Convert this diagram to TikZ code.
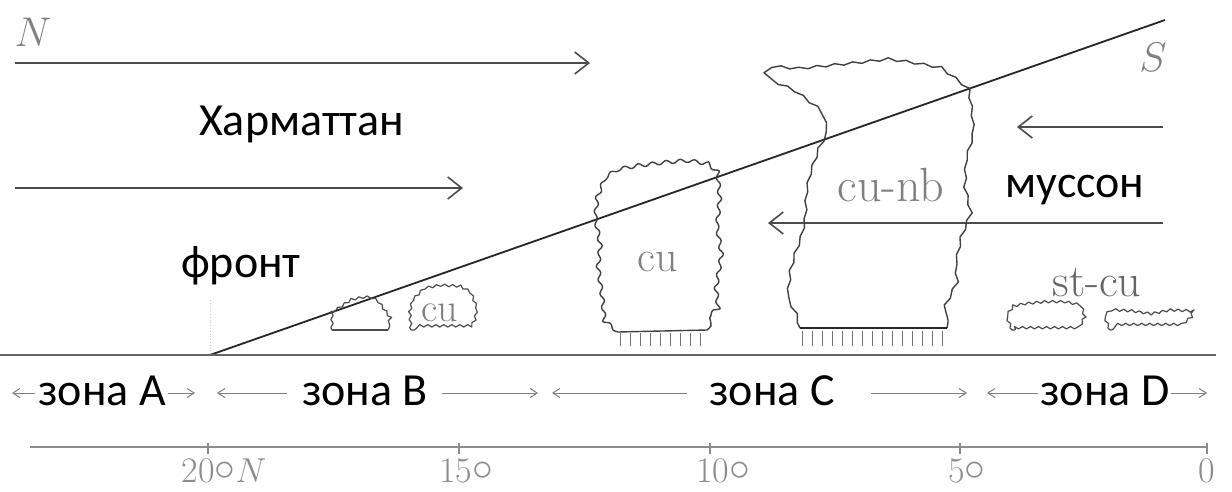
\documentclass[tikz,border=0pt]{standalone}
\usepackage{fontspec}
\newfontfamily\labelfont{Carlito}
\usetikzlibrary{arrows.meta,decorations.pathmorphing}

\newcommand{\latdeg}{\raisebox{1.2pt}{\fontsize{20}{20}\selectfont$\circ$}}

\begin{document}
\begin{tikzpicture}[x=0.5pt, y=-0.5pt]
    % Define styles
    \tikzstyle{rutext} = [font=\labelfont\fontsize{23}{27}\selectfont, text=black, inner sep=0pt]
    \tikzstyle{cloudtext} = [font=\fontsize{22}{26}\selectfont, text=black!50, inner sep=0pt]
    \tikzstyle{degree} = [font=\fontsize{18}{21}\selectfont, text=black!45, inner sep=0pt]
    \tikzstyle{windarrow} = [line width=0.8pt, black!70, -{Straight Barb[length=7pt,width=11pt]}]
    \tikzstyle{zonearrow} = [line width=0.5pt, black!50, -{Straight Barb[length=3.5pt,width=4.5pt]}]
    \tikzstyle{frontline} = [line width=0.9pt, black!85]
    \tikzstyle{cloud} = [line width=0.7pt, black!75, line join=round, decorate, decoration={snake, amplitude=0.9pt, segment length=7pt}]
    \tikzstyle{smallcloud} = [line width=0.6pt, black!70, line join=round, decorate, decoration={snake, amplitude=0.6pt, segment length=4pt}]
    \tikzstyle{rain} = [line width=0.5pt, black!55]
    \tikzstyle{axisline} = [line width=0.6pt, black!45]

    \fill[white] (0,0) rectangle (1232,492);
    \useasboundingbox (0,0) rectangle (1232,492);

    % Wind
    \node[cloudtext, font=\fontsize{20}{24}\selectfont] (north) at (33,32) {$N$};
    \node[cloudtext, font=\fontsize{20}{24}\selectfont] (south) at (1153,57) {$S$};
    \draw[windarrow] (15,63) -- (590,63);
    \draw[windarrow] (15,188) -- (463,188);
    \draw[windarrow] (1163,127) -- (1017,127);
    \draw[windarrow] (1163,223) -- (768,223);
    \node[rutext, anchor=base] (harmattan) at (302,136) {Харматтан};
    \node[rutext, anchor=base] (monsoon) at (1075,198) {муссон};
    \node[rutext, anchor=base] (front) at (241,277) {фронт};

    % Front
    \coordinate (frontbase) at (210,355);
    \coordinate (fronttop) at (1165,20);
    \draw[black!20, densely dotted] (210,300) -- (frontbase);
    \draw[frontline] (frontbase) -- (fronttop);

    % Clouds
    \draw[cloud] (618,332) -- (606,322) -- (604,300) -- (600,270) -- (603,245) -- (598,218) -- (600,195) -- (606,180) -- (618,172) -- (640,168) -- (665,165) -- (690,163) -- (710,166) -- (722,176) -- (724,200) -- (721,230) -- (726,260) -- (721,290) -- (724,315) -- (707,330);
    \draw[line width=0.7pt, black!75] (618,332) -- (707,330);
    \foreach \x in {620,630,...,706} \draw[rain] (\x,333) -- (\x,346);
    \node[cloudtext] (cu) at (658,262) {cu};

    \draw[cloud, decoration={snake, amplitude=0.6pt, segment length=9pt}] (800,328) -- (797,317) -- (788,300) -- (790,280) -- (795,262) -- (803,240) -- (807,222) -- (808,200) -- (812,180) -- (820,157) -- (830,138) -- (827,125) -- (815,112) -- (795,97) -- (775,88) -- (768,78) -- (775,70) -- (800,72) -- (830,69) -- (860,66) -- (893,62) -- (920,66) -- (942,70) -- (958,82) -- (968,90) -- (972,120) -- (973,140) -- (966,165) -- (965,190) -- (972,220) -- (962,245) -- (958,265) -- (960,290) -- (950,310) -- (947,328);
    \draw[line width=1pt, black!85] (800,328) -- (947,328);
    \foreach \x in {802,812,...,946} \draw[rain] (\x,331) -- (\x,346);
    \node[cloudtext, font=\fontsize{24}{28}\selectfont] (cunb) at (891,185) {cu-nb};

    \draw[smallcloud] (332,330) -- (332,313) -- (340,308) -- (352,300) -- (362,298) -- (372,298) -- (380,303) -- (385,310) -- (391,318) -- (388,330);
    \draw[line width=0.6pt, black!70] (332,330) -- (388,330);
    \draw[smallcloud] (411,330) -- (410,315) -- (413,302) -- (423,292) -- (440,289) -- (460,290) -- (472,297) -- (477,310) -- (475,322) -- (470,330) -- cycle;
    \node[cloudtext, font=\fontsize{20}{24}\selectfont] (cusmall) at (440,313) {cu};

    \draw[smallcloud] (1012,330) -- (1008,320) -- (1015,310) -- (1030,307) -- (1050,305) -- (1070,305) -- (1085,308) -- (1088,318) -- (1082,330) -- cycle;
    \draw[smallcloud] (1110,330) -- (1105,318) -- (1112,312) -- (1130,313) -- (1150,316) -- (1170,312) -- (1192,313) -- (1190,322) -- (1180,330) -- cycle;
    \node[cloudtext, font=\fontsize{23}{27}\selectfont, text=black!60] (stcu) at (1097,283) {st-cu};

    % Ground and zones
    \draw[line width=0.6pt, black!60] (0,355) -- (1216,355);
    \node[rutext, anchor=base] (zoneA) at (102,405) {зона A};
    \node[rutext, anchor=base] (zoneB) at (365,405) {зона B};
    \node[rutext, anchor=base] (zoneC) at (772,405) {зона C};
    \node[rutext, anchor=base] (zoneD) at (1105,405) {зона D};
    \coordinate (zAl) at (12,393);  \coordinate (zAr) at (195,393);
    \coordinate (zBl) at (217,393); \coordinate (zBr) at (538,393);
    \coordinate (zCl) at (552,393); \coordinate (zCr) at (967,393);
    \coordinate (zDl) at (987,393); \coordinate (zDr) at (1207,393);
    \draw[zonearrow, shorten <=1.5pt] (zoneA.west |- zAl) -- (zAl);
    \draw[zonearrow, shorten <=1pt] (zoneA.east |- zAr) -- (zAr);
    \draw[zonearrow, shorten <=7.5pt] (zoneB.west |- zBl) -- (zBl);
    \draw[zonearrow, shorten <=7pt] (zoneB.east |- zBr) -- (zBr);
    \draw[zonearrow, shorten <=11pt] (zoneC.west |- zCl) -- (zCl);
    \draw[zonearrow, shorten <=18pt] (zoneC.east |- zCr) -- (zCr);
    \draw[zonearrow, shorten <=1pt] (zoneD.west |- zDl) -- (zDl);
    \draw[zonearrow, shorten <=0.5pt] (zoneD.east |- zDr) -- (zDr);

    % Latitude axis
    \draw[axisline] (30,447) -- (1208,447);
    \foreach \x in {208,459,710,960,1207} \draw[axisline] (\x,443) -- (\x,454);
    \node[degree] (lat20) at (224,471) {20\latdeg$N$};
    \node[degree] (lat15) at (466,471) {15\latdeg};
    \node[degree] (lat10) at (723,471) {10\latdeg};
    \node[degree] (lat5) at (967,471) {5\latdeg};
    \node[degree] (lat0) at (1207,471) {0};
\end{tikzpicture}
\end{document}
